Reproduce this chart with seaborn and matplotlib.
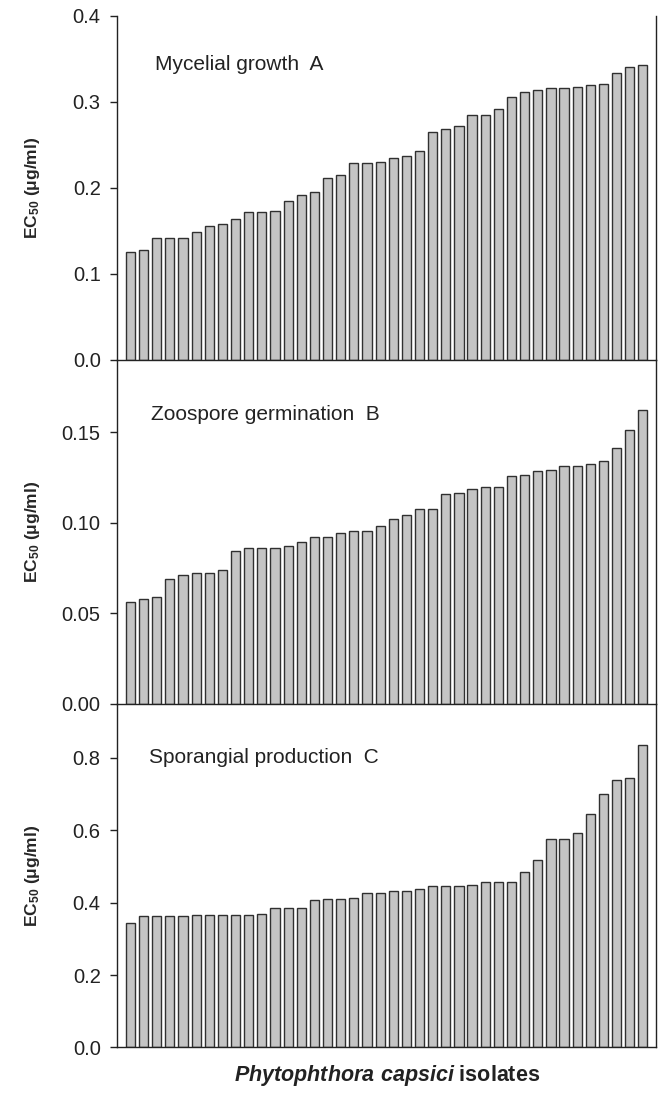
import numpy as np
import pandas as pd
import seaborn as sns
import matplotlib.pyplot as plt
from matplotlib.ticker import FormatStrFormatter

# EC50 values, isolates sorted by sensitivity
mycelial = [0.125, 0.127, 0.141, 0.142, 0.142, 0.149, 0.156, 0.158, 0.164, 0.172,
            0.172, 0.173, 0.185, 0.191, 0.195, 0.211, 0.215, 0.229, 0.229, 0.230,
            0.235, 0.237, 0.243, 0.265, 0.268, 0.272, 0.284, 0.285, 0.291, 0.306,
            0.311, 0.314, 0.316, 0.316, 0.317, 0.319, 0.320, 0.333, 0.340, 0.343]
zoospore = [0.056, 0.058, 0.059, 0.069, 0.071, 0.072, 0.072, 0.074, 0.084, 0.086,
            0.086, 0.086, 0.087, 0.089, 0.092, 0.092, 0.094, 0.0955, 0.0955, 0.098,
            0.102, 0.104, 0.1075, 0.1075, 0.1155, 0.1165, 0.1185, 0.1196, 0.1196, 0.1257,
            0.1264, 0.1282, 0.1292, 0.1314, 0.1314, 0.1323, 0.134, 0.1413, 0.1513, 0.1623]
sporangial = [0.344, 0.362, 0.362, 0.362, 0.362, 0.366, 0.366, 0.366, 0.367, 0.367,
              0.370, 0.385, 0.385, 0.385, 0.406, 0.409, 0.410, 0.413, 0.426, 0.426,
              0.431, 0.433, 0.437, 0.445, 0.445, 0.447, 0.450, 0.458, 0.458, 0.458,
              0.486, 0.517, 0.575, 0.575, 0.593, 0.644, 0.699, 0.740, 0.743, 0.835]

panel_labels = ["Mycelial growth  A", "Zoospore germination  B", "Sporangial production  C"]
ylims = [0.4, 0.19, 0.95]
yticks = [[0.0, 0.1, 0.2, 0.3, 0.4],
          [0.0, 0.05, 0.10, 0.15],
          [0.0, 0.2, 0.4, 0.6, 0.8]]
yfmt = ["%.1f", "%.2f", "%.1f"]
text_pos = [(0.070, 0.842), (0.062, 0.824), (0.058, 0.827)]

sns.set_style("ticks")
plt.rcParams["font.family"] = ["Liberation Sans", "DejaVu Sans"]
plt.rcParams["mathtext.fontset"] = "custom"
plt.rcParams["mathtext.rm"] = "Liberation Sans"
plt.rcParams["mathtext.bf"] = "Liberation Sans:bold"
plt.rcParams["mathtext.it"] = "Liberation Sans:italic:bold"

fig, axes = plt.subplots(3, 1, figsize=(6.58, 10.99), dpi=100)
fig.subplots_adjust(left=0.1783, right=0.997, top=0.9857, bottom=0.0469, hspace=0)

series = [mycelial, zoospore, sporangial]
for i, ax in enumerate(axes):
    df = pd.DataFrame({"isolate": np.arange(len(series[i])), "ec50": series[i]})
    sns.barplot(data=df, x="isolate", y="ec50", ax=ax, color="#c4c4c4",
                edgecolor="#303030", linewidth=1.0, width=0.7, saturation=1)
    ax.set_facecolor("none")
    ax.set_xlim(-1, 40)
    ax.set_ylim(0, ylims[i])
    ax.set_yticks(yticks[i])
    ax.yaxis.set_major_formatter(FormatStrFormatter(yfmt[i]))
    ax.set_xticks([])
    ax.set_xlabel("")
    ax.set_ylabel(r"EC$_{\mathbf{50}}$ ($\mathbf{\mu}$g/ml)", fontsize=12.5, fontweight="bold")
    ax.yaxis.set_label_coords(-0.14, 0.5)
    ax.tick_params(axis="y", direction="out", length=5, width=1, pad=7,
                   labelsize=14.5, colors="#222222")
    for s in ["left", "right", "bottom"]:
        ax.spines[s].set_visible(True)
        ax.spines[s].set_linewidth(1.0)
        ax.spines[s].set_color("#222222")
        ax.spines[s].set_zorder(5)
    ax.spines["top"].set_visible(False)
    ax.text(text_pos[i][0], text_pos[i][1], panel_labels[i], transform=ax.transAxes,
            fontsize=15, va="baseline", ha="left", color="#222222")

# x label below the last panel
axes[2].text(0.5, -0.045, r"$\mathit{Phytophthora\ capsici}$ isolates",
             transform=axes[2].transAxes, ha="center", va="top",
             fontsize=15.5, fontweight="bold", color="#222222")

plt.savefig("out.png", dpi=100)
